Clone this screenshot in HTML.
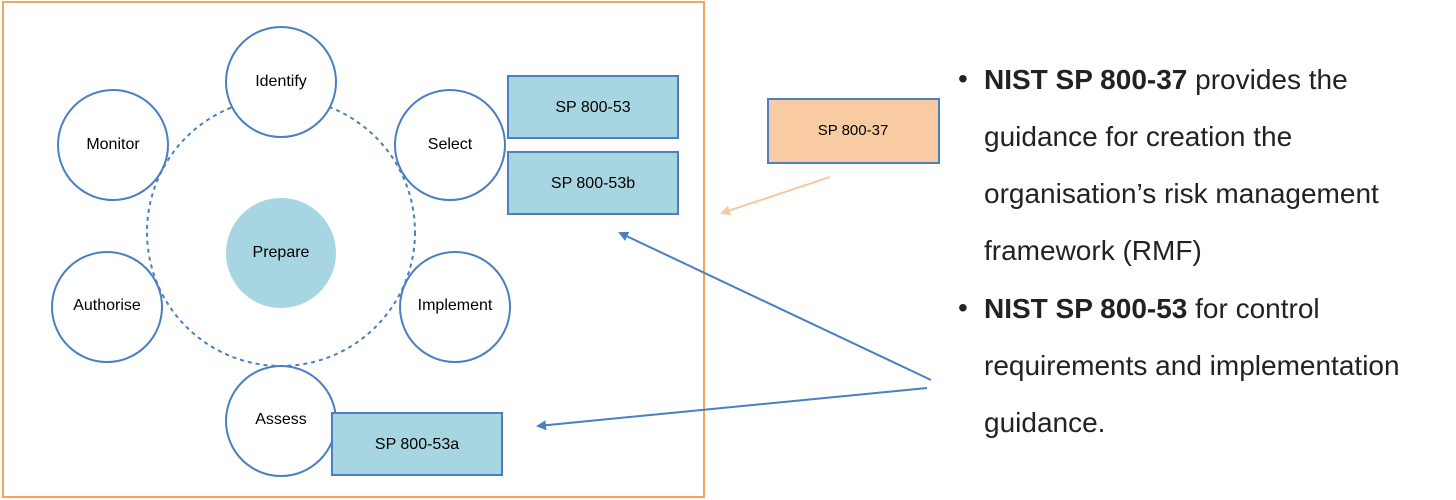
<!DOCTYPE html>
<html><head><style>
body{margin:0;width:1456px;height:500px;background:#fff;overflow:hidden;position:relative;font-family:"Liberation Sans",sans-serif}
.t{position:absolute;left:984px;font-size:28px;color:#222;white-space:nowrap;line-height:34px}
.b{position:absolute;left:958px;font-size:28px;color:#222}
</style></head><body>
<svg width="1456" height="500" style="position:absolute;left:0;top:0" font-family="Liberation Sans, sans-serif">
<defs>
<marker id="ab" markerWidth="10" markerHeight="10" refX="8" refY="5" orient="auto" markerUnits="userSpaceOnUse"><path d="M0,0 L10,5 L0,10 z" fill="#4a7fc1"/></marker>
<marker id="ao" markerWidth="10" markerHeight="10" refX="8" refY="5" orient="auto" markerUnits="userSpaceOnUse"><path d="M0,0 L10,5 L0,10 z" fill="#f8c9a0"/></marker>
</defs>
<rect x="3" y="2" width="701" height="495" fill="none" stroke="#f4a55a" stroke-width="2"/>
<circle cx="281" cy="232" r="134" fill="none" stroke="#4a7fc1" stroke-width="2" stroke-dasharray="4,4"/>
<g fill="#fff" stroke="#4a7fc1" stroke-width="2">
<circle cx="281" cy="82" r="55"/>
<circle cx="113" cy="145" r="55"/>
<circle cx="450" cy="145" r="55"/>
<circle cx="107" cy="307" r="55"/>
<circle cx="455" cy="307" r="55"/>
<circle cx="281" cy="421" r="55"/>
</g>
<circle cx="281" cy="253" r="55" fill="#a8d5e2"/>
<g fill="#a8d5e2" stroke="#4a7fc1" stroke-width="2">
<rect x="508" y="76" width="170" height="62"/>
<rect x="508" y="152" width="170" height="62"/>
<rect x="332" y="413" width="170" height="62"/>
</g>
<rect x="768" y="99" width="171" height="64" fill="#f8cba3" stroke="#4a7fc1" stroke-width="2"/>
<g font-size="16" fill="#000" text-anchor="middle">
<text x="281" y="86">Identify</text>
<text x="113" y="149">Monitor</text>
<text x="450" y="149">Select</text>
<text x="107" y="310">Authorise</text>
<text x="455" y="310">Implement</text>
<text x="281" y="424">Assess</text>
<text x="281" y="257">Prepare</text>
<text x="593" y="112">SP 800-53</text>
<text x="593" y="188">SP 800-53b</text>
<text x="417" y="449">SP 800-53a</text>
<text x="853" y="135" font-size="15">SP 800-37</text>
</g>
<line x1="830" y1="177" x2="722" y2="213" stroke="#f8c9a0" stroke-width="2" marker-end="url(#ao)"/>
<line x1="931" y1="380" x2="620" y2="233" stroke="#4a7fc1" stroke-width="2" marker-end="url(#ab)"/>
<line x1="927" y1="388" x2="538" y2="426" stroke="#4a7fc1" stroke-width="2" marker-end="url(#ab)"/>
</svg>
<div class="b" style="top:63px">•</div>
<div class="t" style="top:63px"><b>NIST SP 800-37</b> provides the</div>
<div class="t" style="top:120px">guidance for creation the</div>
<div class="t" style="top:177px">organisation’s risk management</div>
<div class="t" style="top:234px">framework (RMF)</div>
<div class="b" style="top:292px">•</div>
<div class="t" style="top:292px"><b>NIST SP 800-53</b> for control</div>
<div class="t" style="top:349px">requirements and implementation</div>
<div class="t" style="top:406px">guidance.</div>
</body></html>
